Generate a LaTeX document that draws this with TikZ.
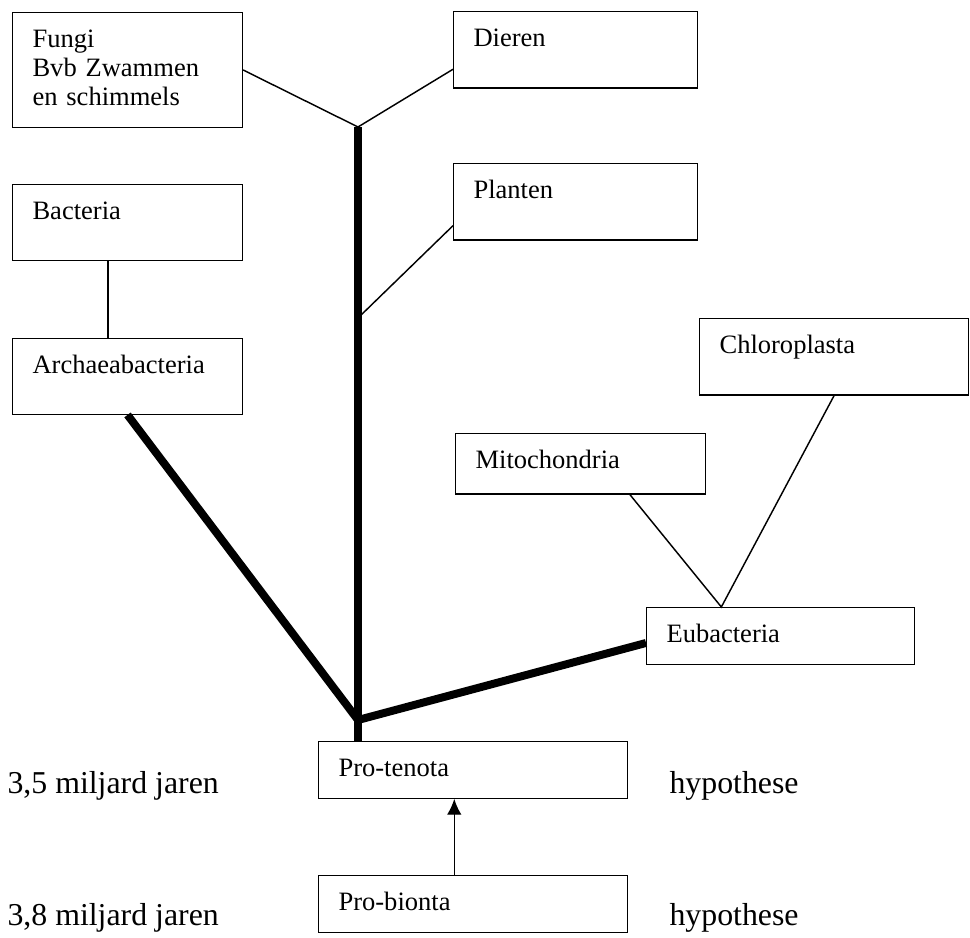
\documentclass[tikz,border=0pt]{standalone}
\usepackage{fontspec}
\setmainfont{Liberation Serif}
\usetikzlibrary{arrows.meta}

\begin{document}
\begin{tikzpicture}[x=0.377pt, y=-0.377pt, >={Latex[length=6pt,width=5.5pt]},
    taxon/.style 2 args={draw, line width=0.5pt, anchor=north west, align=left,
      inner xsep=7.5pt, inner ysep=0pt, text width=#1, text height=13pt, text depth=#2,
      font=\fontsize{10pt}{11pt}\selectfont},
    tak/.style={line width=0.55pt},
    stam/.style={line width=3pt},
    tijd/.style={anchor=base west, inner sep=0pt, font=\fontsize{12pt}{14pt}\selectfont}]
    \useasboundingbox (0,0) rectangle (970,938);

    % --- bovenste takken ---
    \node[taxon={71.6pt}{30.2pt}] (fungi) at (12,12) {Fungi\\Bvb Zwammen\\en schimmels};
    \node[taxon={76.9pt}{15.8pt}] (dieren) at (453,11) {Dieren};
    \node[taxon={76.9pt}{15.8pt}] (planten) at (453,163) {Planten};

    % --- linker tak ---
    \node[taxon={71.6pt}{15.5pt}] (bacteria) at (12,184) {Bacteria};
    \node[taxon={71.6pt}{15.5pt}] (archaea) at (12,338) {Archaeabacteria};

    % --- rechter tak ---
    \node[taxon={86.3pt}{15.8pt}] (chloro) at (699,318) {Chloroplasta};
    \node[taxon={79.2pt}{9.8pt}] (mito) at (455,433) {Mitochondria};
    \node[taxon={86pt}{8.3pt}] (eubac) at (646,607) {Eubacteria};

    % --- oorsprong ---
    \node[taxon={101.4pt}{8.3pt}] (tenota) at (318,741) {Pro-tenota};
    \node[taxon={101.4pt}{8.3pt}] (bionta) at (318,875) {Pro-bionta};

    \coordinate (kruin) at (358,127);  % splitsing fungi / dieren
    \coordinate (splits) at (358,318); % aftakking planten
    \coordinate (wortel) at (358,720);

    % dunne takken
    \draw[tak] (fungi.east) -- (kruin) -- (dieren.189);
    \draw[tak] (splits) -- (planten.191);
    \draw[tak] (bacteria.243) -- (archaea.117);
    \draw[tak] (mito.328) -- (eubac.154) -- (chloro.south);

    % dikke stam
    \draw[stam] (kruin) -- (kruin |- tenota.north);
    \draw[stam] (archaea.south) -- (wortel);
    \draw[stam] (wortel) -- (eubac.183);

    \draw[tak, ->] (bionta.123) -- (tenota.237);

    % --- tijdschaal ---
    \node[tijd] (t35) at (7,793) {3,5 miljard jaren};
    \node[tijd] (t38) at (7,925) {3,8 miljard jaren};
    \node[tijd] (h35) at (669,793) {hypothese};
    \node[tijd] (h38) at (669,925) {hypothese};
\end{tikzpicture}
\end{document}
